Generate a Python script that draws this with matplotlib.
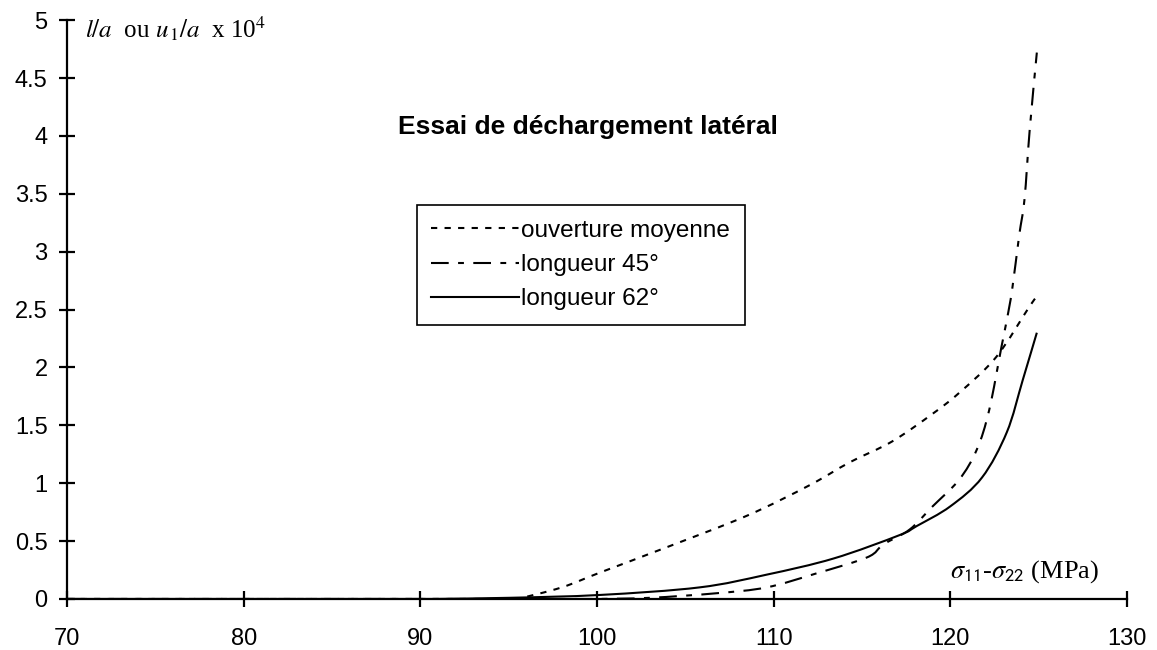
import matplotlib
matplotlib.use("Agg")
import numpy as np
import matplotlib.pyplot as plt
from matplotlib.path import Path
from matplotlib.patches import PathPatch
from matplotlib.lines import Line2D
from matplotlib.ticker import FormatStrFormatter

plt.rcParams['font.family'] = ['Liberation Sans', 'DejaVu Sans']
plt.rcParams['mathtext.fontset'] = 'stix'

# ouverture moyenne
x_ouv = [70, 95.5, 98, 100.2, 104, 108.5, 112, 114.3, 116.7, 119, 120.5, 122.6, 124.5, 125]
y_ouv = [0, 0, 0.1, 0.23, 0.45, 0.72, 0.98, 1.18, 1.36, 1.6, 1.78, 2.09, 2.53, 2.63]

# longueur 45°
x_45 = [70, 100, 103, 106.8, 109.6, 112.4, 115.3, 116.2, 117.7, 119.0, 120.5, 121.5,
        122.2, 122.9, 123.2, 123.5, 123.9, 124.2, 124.5, 124.9]
y_45 = [0, 0, 0.01, 0.05, 0.10, 0.22, 0.36, 0.47, 0.60, 0.80, 1.03, 1.29,
        1.63, 2.18, 2.41, 2.67, 3.14, 3.45, 4.06, 4.72]

# longueur 62°
x_62 = [70, 90.7, 95, 100.2, 105.8, 109.6, 113.4, 117.1, 118.1, 120.0, 121.8, 123.2, 124.1, 124.9]
y_62 = [0, 0, 0.01, 0.035, 0.10, 0.21, 0.35, 0.55, 0.63, 0.80, 1.05, 1.44, 1.89, 2.30]

labels = ['ouverture moyenne', 'longueur 45°', 'longueur 62°']
x_ticks = [70, 80, 90, 100, 110, 120, 130]
y_ticks = [0, 0.5, 1, 1.5, 2, 2.5, 3, 3.5, 4, 4.5, 5]


def smooth_path(xs, ys):
    # flat run along the axis, then a Catmull-Rom style bezier through the points
    pts = np.column_stack([xs, ys]).astype(float)
    verts = [pts[0], pts[1]]
    codes = [Path.MOVETO, Path.LINETO]
    n = len(pts)
    for i in range(1, n - 1):
        p0 = pts[i - 1] if i > 1 else pts[i]
        p1 = pts[i]
        p2 = pts[i + 1]
        p3 = pts[i + 2] if i + 2 < n else p2
        verts += [p1 + (p2 - p0) / 6, p2 - (p3 - p1) / 6, p2]
        codes += [Path.CURVE4] * 3
    return Path(verts, codes)


fig = plt.figure(figsize=(11.57, 6.5), dpi=100)
ax = fig.add_axes([0.058, 0.0785, 0.916, 0.8905])

styles = [(0, (3, 3.5)), (0, (8.5, 4.5, 2.8, 4.5)), '-']
series = [(x_ouv, y_ouv), (x_45, y_45), (x_62, y_62)]
handles = []
for (xs, ys), ls, lab in zip(series, styles, labels):
    ax.add_patch(PathPatch(smooth_path(xs, ys), fill=False, edgecolor='black',
                           lw=1.5, linestyle=ls, capstyle='butt'))
    handles.append(Line2D([], [], color='black', lw=1.5, linestyle=ls, label=lab))

ax.set_xlim(70, 130)
ax.set_ylim(0, 5)
ax.set_xticks(x_ticks)
ax.set_yticks(y_ticks)
ax.yaxis.set_major_formatter(FormatStrFormatter('%g'))

for s in ['top', 'right']:
    ax.spines[s].set_visible(False)
for s in ['left', 'bottom']:
    ax.spines[s].set_linewidth(1.6)
    ax.spines[s].set_color('black')
    ax.spines[s].set_zorder(3)

ax.tick_params(axis='both', direction='inout', length=12, width=1.6, labelsize=17, colors='black')
ax.tick_params(axis='x', pad=15)
ax.tick_params(axis='y', pad=8)

leg = ax.legend(handles=handles, loc='upper left', bbox_to_anchor=(0.330, 0.680), borderaxespad=0,
                fontsize=17.5, handlelength=3.6, handletextpad=0.1, labelspacing=0.5,
                borderpad=0.6, fancybox=False, framealpha=1)
leg.get_frame().set_edgecolor('black')
leg.get_frame().set_linewidth(1.2)

ax.text(99.5, 4.08, 'Essai de déchargement latéral', ha='center', va='center',
        fontsize=19, fontweight='bold')

ax.text(71.0, 4.93, r'$l/a$  ou $u_{\,1}/a$  x 10$^4$', ha='left', va='center',
        fontsize=18, family='Liberation Serif', clip_on=False)

ax.text(120.0, 0.24, r'$\sigma_{\mathsf{11}}$-$\sigma_{\mathsf{22}}$ (MPa)', ha='left', va='center',
        fontsize=19, family='Liberation Serif')

fig.savefig('out.png', dpi=100)
